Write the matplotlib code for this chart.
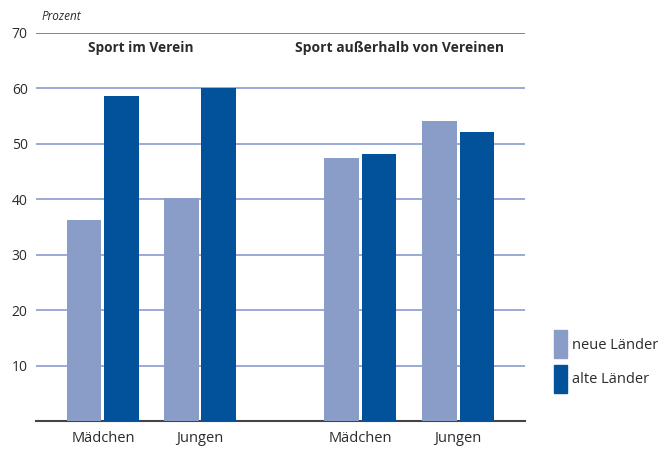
import matplotlib.pyplot as plt
from matplotlib.patches import Patch

# data
categories = ["Mädchen", "Jungen", "Mädchen", "Jungen"]
positions = [0, 1, 2.65, 3.66]
neue_laender = [36.2, 40.3, 47.4, 54.2]
alte_laender = [58.6, 60.0, 48.1, 52.2]
group_titles = ["Sport im Verein", "Sport außerhalb von Vereinen"]
yticks = [10, 20, 30, 40, 50, 60, 70]

light = "#8a9cc8"
dark = "#02529b"
text_col = "#2b2b2b"

plt.rcParams['font.family'] = ['Open Sans', 'DejaVu Sans']

fig = plt.figure(figsize=(6.68, 4.5), dpi=100)
ax = fig.add_axes([36 / 668, 1 - 421 / 450, (525 - 36) / 668, (421 - 33) / 450])

w = 0.36
off = 0.195
ax.bar([p - off for p in positions], neue_laender, width=w, color=light, zorder=3)
ax.bar([p + off for p in positions], alte_laender, width=w, color=dark, zorder=3)

ax.set_xlim(-0.69, 4.35)
ax.set_ylim(0, 70)
ax.set_yticks(yticks)
ax.set_yticklabels([str(t) for t in yticks], fontsize=10, color=text_col)
ax.set_xticks(positions)
ax.set_xticklabels(categories, fontsize=10.5, color=text_col)
ax.tick_params(length=0, pad=6)
ax.tick_params(axis='x', pad=7)

for t in yticks:
    ax.axhline(t, color="#3f68b0" if t == 70 else "#7d95c9", lw=1.1, zorder=1)

for s in ["top", "right", "left"]:
    ax.spines[s].set_visible(False)
ax.spines["bottom"].set_color("#444444")
ax.spines["bottom"].set_linewidth(1.5)

ax.text(0.39, 67.3, group_titles[0], ha="center", va="center",
        fontsize=9.8, fontweight="bold", color=text_col)
ax.text(3.06, 67.3, group_titles[1], ha="center", va="center",
        fontsize=10, fontweight="bold", color=text_col)
fig.text(42 / 668, 1 - 17 / 450, "Prozent", fontsize=8.5, style="italic",
         color=text_col, va="center")

handles = [Patch(color=light, label="neue Länder"), Patch(color=dark, label="alte Länder")]
fig.legend(handles=handles, loc="upper left", bbox_to_anchor=(541 / 668, 1 - 317 / 450),
           frameon=False, handlelength=0.9, handleheight=2.6, handletextpad=0.3,
           labelspacing=0.45, fontsize=10.5, labelcolor=text_col)

fig.savefig("out.png", dpi=100)
